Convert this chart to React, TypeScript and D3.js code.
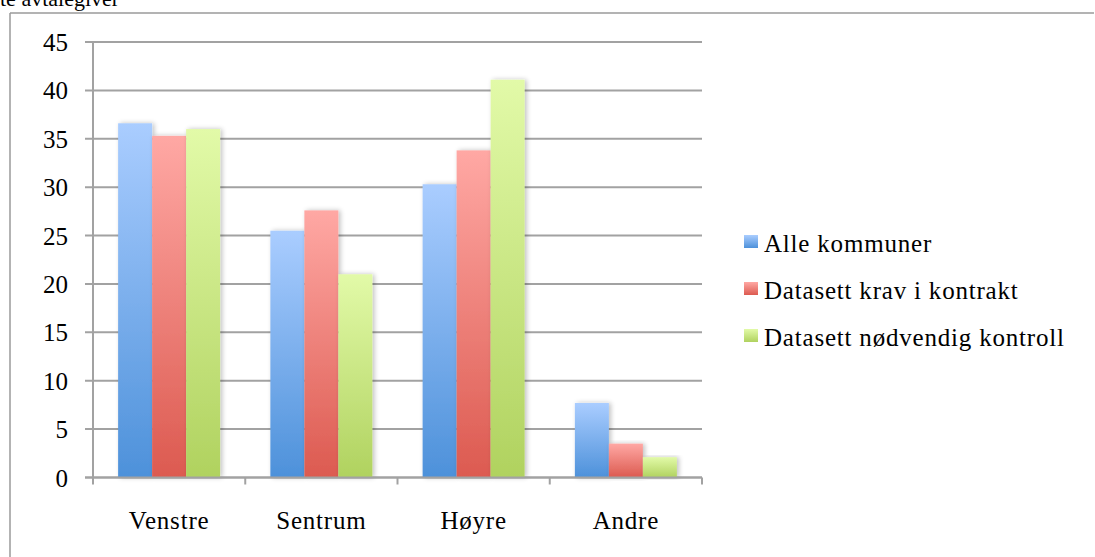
import React from "react";
import * as d3 from "d3";

const categories = ["Venstre", "Sentrum", "Høyre", "Andre"];
const seriesNames = ["Alle kommuner", "Datasett krav i kontrakt", "Datasett nødvendig kontroll"];
const alleKommuner = [36.6, 25.5, 30.3, 7.7];
const kravIKontrakt = [35.3, 27.6, 33.8, 3.5];
const noedvendigKontroll = [36.0, 21.0, 41.1, 2.1];
const yTicks = [0, 5, 10, 15, 20, 25, 30, 35, 40, 45];

const seriesValues = [alleKommuner, kravIKontrakt, noedvendigKontroll];
const gradients = [
  { id: "gBlue", top: "#aacdff", bottom: "#4d91da" },
  { id: "gRed", top: "#ffa8a4", bottom: "#dc5a50" },
  { id: "gGreen", top: "#e2faa8", bottom: "#b0d25f" },
];

const font = "'Liberation Serif', 'Times New Roman', serif";
const textStyle = { fontFamily: font };

export default function App() {
  const W = 1095;
  const H = 557;
  const left = 93;
  const right = 702;
  const top = 42;
  const bottom = 477.5;

  const y = d3.scaleLinear().domain([0, 45]).range([bottom, top]);
  const x0 = d3.scaleBand<string>().domain(categories).range([left, right]).paddingInner(0).paddingOuter(0);
  const groupW = x0.bandwidth() * 0.67;
  const x1 = d3
    .scaleBand<number>()
    .domain(seriesValues.map((_, i) => i))
    .range([(x0.bandwidth() - groupW) / 2, (x0.bandwidth() + groupW) / 2]);

  const gridColor = "#a2a2a2";
  const boundaries = categories.map((c) => x0(c) as number).concat([right]);

  return (
    <svg
      width={W}
      height={H}
      style={{ position: "absolute", left: 0, top: 0, background: "#fff" }}
    >
      <defs>
        {gradients.map((g) => (
          <linearGradient key={g.id} id={g.id} x1="0" y1="0" x2="0" y2="1">
            <stop offset="0%" stopColor={g.top} />
            <stop offset="100%" stopColor={g.bottom} />
          </linearGradient>
        ))}
        <filter id="shadow" x="-20%" y="-10%" width="150%" height="120%">
          <feGaussianBlur in="SourceAlpha" stdDeviation="2.5" />
          <feOffset dx="2" dy="0" result="blur" />
          <feComponentTransfer>
            <feFuncA type="linear" slope="0.25" />
          </feComponentTransfer>
          <feMerge>
            <feMergeNode />
            <feMergeNode in="SourceGraphic" />
          </feMerge>
        </filter>
      </defs>

      {/* partial caption cut off at top, as in the reference */}
      <text x={0} y={6} fontSize={22} fill="#000" style={textStyle}>te avtalegiver</text>

      {/* outer border */}
      <line x1={10} y1={13} x2={1094} y2={13} stroke="#9a9a9a" strokeWidth={1.5} />
      <line x1={10} y1={13} x2={10} y2={H} stroke="#9a9a9a" strokeWidth={1.5} />

      {/* gridlines */}
      {yTicks.map((t) => (
        <g key={t}>
          <line x1={85} x2={right} y1={y(t)} y2={y(t)} stroke={gridColor} strokeWidth={2} />
          <text
            x={68}
            y={y(t) + 9}
            textAnchor="end"
            fontSize={25}
            fill="#000"
            style={textStyle}
          >
            {t}
          </text>
        </g>
      ))}

      {/* y axis */}
      <line x1={left} x2={left} y1={top} y2={bottom} stroke={gridColor} strokeWidth={2} />

      {/* bars */}
      {categories.map((c, ci) => (
        <g key={c} transform={`translate(${x0(c)},0)`}>
          {seriesValues.map((vals, si) => (
            <rect
              key={si}
              x={x1(si) as number}
              width={x1.bandwidth()}
              y={y(vals[ci])}
              height={bottom - y(vals[ci])}
              fill={`url(#${gradients[si].id})`}
              filter="url(#shadow)"
            />
          ))}
        </g>
      ))}

      {/* x axis */}
      <line x1={85} x2={right} y1={bottom} y2={bottom} stroke={gridColor} strokeWidth={2} />
      {boundaries.map((b, i) => (
        <line key={i} x1={b} x2={b} y1={bottom} y2={bottom + 7} stroke={gridColor} strokeWidth={2} />
      ))}
      {categories.map((c) => (
        <text
          key={c}
          x={(x0(c) as number) + x0.bandwidth() / 2}
          y={529}
          textAnchor="middle"
          fontSize={25}
          letterSpacing={0.8}
          fill="#000"
          style={textStyle}
        >
          {c}
        </text>
      ))}

      {/* legend */}
      {seriesNames.map((n, i) => (
        <g key={n} transform={`translate(744, ${235 + i * 47})`}>
          <rect x={0} y={0} width={14} height={13} fill={`url(#${gradients[i].id})`} />
          <text x={20} y={16.5} fontSize={25} letterSpacing={0.8} fill="#000" style={textStyle}>
            {n}
          </text>
        </g>
      ))}
    </svg>
  );
}
